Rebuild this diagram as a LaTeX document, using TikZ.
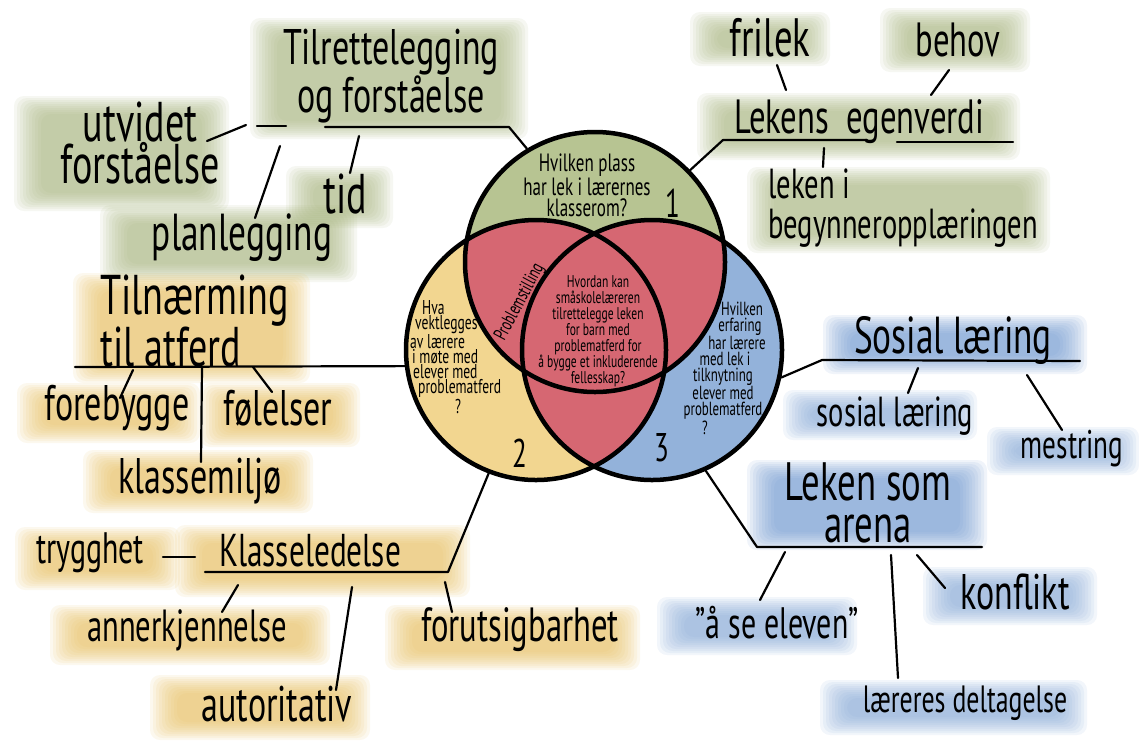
\documentclass[tikz,border=0pt]{standalone}
\usepackage{fontspec}
\setmainfont{PT Sans}[FakeStretch=0.68]
\definecolor{vgreen}{HTML}{B7C492}
\definecolor{vyellow}{HTML}{F2D690}
\definecolor{vblue}{HTML}{93B2DA}
\definecolor{vred}{HTML}{D66772}
\definecolor{bgreen}{HTML}{A8B780}
\definecolor{byellow}{HTML}{EAC05E}
\definecolor{bblue}{HTML}{86A8D8}
\definecolor{bbluedark}{HTML}{6D98D1}
\newcommand{\fs}[2]{\fontsize{#1}{#2}\selectfont}
\newcommand{\brushfill}[5]{%
  \foreach \k in {0,...,9}{%
    \fill[#1, opacity=0.1, rounded corners=10pt] (#2+3*\k,#3+2*\k) rectangle (#4-3*\k,#5-2*\k);
  }%
}
\begin{document}
\begin{tikzpicture}[x=1pt,y=-1pt,
  lbl/.style={inner sep=0pt, align=center, text=black},
  con/.style={line width=2.2pt, line cap=round, line join=round},
  vc/.style={circle, draw, line width=4.5pt, minimum size=260pt, inner sep=0pt}]
\fill[white] (0,0) rectangle (1139,740);
\useasboundingbox (0,0) rectangle (1139,740);

% ---------- brushes ----------
\brushfill{bgreen}{250}{18}{528}{139}
\brushfill{bgreen}{14}{96}{229}{211}
\brushfill{bgreen}{286}{166}{393}{228}
\brushfill{bgreen}{100}{205}{357}{282}
\brushfill{bgreen}{690}{12}{830}{66}
\brushfill{bgreen}{880}{8}{1030}{72}
\brushfill{bgreen}{697}{93}{1020}{160}
\brushfill{bgreen}{747}{167}{1050}{253}
\brushfill{byellow}{73}{273}{310}{383}
\brushfill{byellow}{17}{383}{200}{443}
\brushfill{byellow}{200}{383}{360}{447}
\brushfill{byellow}{83}{450}{313}{513}
\brushfill{byellow}{175}{525}{470}{597}
\brushfill{byellow}{15}{527}{180}{590}
\brushfill{byellow}{50}{605}{330}{665}
\brushfill{byellow}{150}{675}{370}{740}
\brushfill{byellow}{385}{605}{640}{670}
\brushfill{bbluedark}{823}{315}{1087}{374}
\brushfill{bblue}{783}{390}{977}{440}
\brushfill{bblue}{987}{427}{1139}{475}
\brushfill{bbluedark}{747}{460}{987}{550}
\brushfill{bblue}{657}{597}{857}{655}
\brushfill{bblue}{923}{567}{1097}{625}
\brushfill{bblue}{820}{680}{1087}{735}

% ---------- Venn ----------
\fill[vgreen] (595,262) circle (130);
\fill[vyellow] (536,350) circle (130);
\fill[vblue] (652,350) circle (130);
\begin{scope}
  \clip (595,262) circle (130);
  \fill[vred] (536,350) circle (130);
  \fill[vred] (652,350) circle (130);
\end{scope}
\begin{scope}
  \clip (536,350) circle (130);
  \fill[vred] (652,350) circle (130);
\end{scope}
\node[vc] (gc) at (595,262) {};
\node[vc] (yc) at (536,350) {};
\node[vc] (bc) at (652,350) {};

\node[lbl, font=\fs{25}{21}] (q1) at (587,185) {Hvilken plass\\har lek i lærernes\\klasserom?};
\node[lbl, font=\fs{40}{40}] (n1) at (673,203) {1};
\node[lbl, font=\fs{20}{15}, align=left, anchor=west] (q2) at (410,357)
  {\hspace*{12pt}Hva\\\hspace*{5pt}vektlegges\\av lærere\\\hspace*{2pt}i møte med\\\hspace*{3pt}elever med\\\hspace*{8pt}problematferd\\\hspace*{45pt}?};
\node[lbl, font=\fs{40}{40}] (n2) at (520,453) {2};
\node[lbl, font=\fs{19}{16}] (q3) at (723,368)
  {\hspace*{38pt}Hvilken\\\hspace*{34pt}erfaring\\\hspace*{28pt}har lærere\\\hspace*{4pt}med lek i\\tilknytning\hspace*{10pt}\\elever med\hspace*{38pt}\\problematferd\hspace*{38pt}\\?\hspace*{36pt}};
\node[lbl, font=\fs{40}{40}] (n3) at (662,448) {3};
\node[lbl, font=\fs{17}{16}] (q0) at (598,331) {Hvordan kan\\småskolelæreren\\tilrettelegge leken\\for barn med\\problematferd for\\å bygge et inkluderende\\fellesskap?};
\node[lbl, font=\fs{19}{19}, rotate=62] (ps) at (520,302) {Problemstilling};

% ---------- top left ----------
\node[lbl, font=\fs{50}{45}] (t1) at (391,76) {Tilrettelegging\\og forståelse};
\node[lbl, font=\fs{56}{42}] (t1u) at (140,143) {utvidet\\forståelse};
\node[lbl, font=\fs{56}{56}] (t1t) at (345,194) {tid};
\node[lbl, font=\fs{52}{52}] (t1p) at (242,238) {planlegging};
\coordinate (ta) at (509,127);
\coordinate (tb) at (325,127);
\draw[con] (gc.121) -- (ta) -- (tb);
\coordinate (u1) at (207,141); \coordinate (u2) at (246,125);
\coordinate (u3) at (257,126); \coordinate (u4) at (286,126);
\draw[con] (u1) -- (u2);
\draw[con] (u3) -- (u4);
\coordinate (tt1) at (350,173); \coordinate (tt2) at (359,136);
\draw[con] (tt1) -- (tt2);
\coordinate (tp1) at (255,218); \coordinate (tp2) at (280,146);
\draw[con] (tp1) -- (tp2);

% ---------- top right ----------
\node[lbl, font=\fs{48}{48}] (t2) at (859,122) {Lekens\ \ egenverdi};
\node[lbl, font=\fs{54}{54}] (t2f) at (770,38) {frilek};
\node[lbl, font=\fs{48}{48}] (t2b) at (958,40) {behov};
\node[lbl, font=\fs{42}{40}, align=left] (t2l) at (903,208) {leken i\\begynneropplæringen};
\coordinate (la) at (723,140);
\coordinate (lb) at (867,140);
\draw[con] (gc.44) -- (la) -- (lb);
\coordinate (lc) at (897,142); \coordinate (ld) at (1013,142);
\draw[con] (lc) -- (ld);
\coordinate (f1) at (777,65); \coordinate (f2) at (786,90);
\draw[con] (f1) -- (f2);
\coordinate (h1) at (949,70); \coordinate (h2) at (931,95);
\draw[con] (h1) -- (h2);
\coordinate (k1) at (824,148); \coordinate (k2) at (823,167);
\draw[con] (k1) -- (k2);

% ---------- middle left ----------
\node[lbl, font=\fs{56}{42}, align=left, anchor=west] (t3) at (100,321) {Tilnærming\\til atferd};
\node[lbl, font=\fs{50}{50}] (t3a) at (117,408) {forebygge};
\node[lbl, font=\fs{50}{50}] (t3b) at (278,408) {følelser};
\node[lbl, font=\fs{50}{50}] (t3c) at (200,481) {klassemiljø};
\coordinate (na) at (75,367);
\draw[con] (yc.187.5) -- (na);
\coordinate (m1) at (133,370); \coordinate (m2) at (120,398);
\draw[con] (m1) -- (m2);
\coordinate (m3) at (202,368); \coordinate (m4) at (201,462);
\draw[con] (m3) -- (m4);
\coordinate (m5) at (253,367); \coordinate (m6) at (272,392);
\draw[con] (m5) -- (m6);

% ---------- bottom left ----------
\node[lbl, font=\fs{46}{46}] (t4) at (310,551) {Klasseledelse};
\node[lbl, font=\fs{44}{44}] (t4a) at (90,553) {trygghet};
\node[lbl, font=\fs{45}{45}] (t4b) at (187,630) {annerkjennelse};
\node[lbl, font=\fs{50}{50}] (t4c) at (277,704) {autoritativ};
\node[lbl, font=\fs{48}{48}] (t4d) at (520,630) {forutsigbarhet};
\coordinate (ka) at (448,572);
\coordinate (kb) at (205,572);
\draw[con] (yc.249) -- (ka) -- (kb);
\coordinate (d1) at (163,557); \coordinate (d2) at (195,557);
\draw[con] (d1) -- (d2);
\coordinate (e1) at (238,585); \coordinate (e2) at (222,612);
\draw[con] (e1) -- (e2);
\coordinate (e3) at (352,587); \coordinate (e4) at (336,690);
\draw[con] (e3) -- (e4);
\coordinate (e5) at (445,582); \coordinate (e6) at (452,612);
\draw[con] (e5) -- (e6);

% ---------- right ----------
\node[lbl, font=\fs{52}{52}] (t5) at (953,340) {Sosial læring};
\node[lbl, font=\fs{42}{42}] (t5a) at (895,416) {sosial læring};
\node[lbl, font=\fs{40}{40}] (t5b) at (1072,449) {mestring};
\coordinate (sa) at (822,360);
\coordinate (sb) at (1080,361);
\draw[con] (bc.-12) -- (sa) -- (sb);
\coordinate (s1) at (918,368); \coordinate (s2) at (908,393);
\draw[con] (s1) -- (s2);
\coordinate (s3) at (1027,375); \coordinate (s4) at (1062,430);
\draw[con] (s3) -- (s4);

\node[lbl, font=\fs{54}{42}] (t6) at (868,503) {Leken som\\arena};
\node[lbl, font=\fs{44}{44}] (t6a) at (777,623) {"å se eleven"};
\node[lbl, font=\fs{50}{50}] (t6b) at (1015,592) {konflikt};
\node[lbl, font=\fs{38}{38}] (t6c) at (965,703) {læreres deltagelse};
\coordinate (aa) at (757,547);
\coordinate (ab) at (982,547);
\draw[con] (bc.-66) -- (aa) -- (ab);
\coordinate (r1) at (785,552); \coordinate (r2) at (760,600);
\draw[con] (r1) -- (r2);
\coordinate (r3) at (891,555); \coordinate (r4) at (898,678);
\draw[con] (r3) -- (r4);
\coordinate (r5) at (917,555); \coordinate (r6) at (945,588);
\draw[con] (r5) -- (r6);
\end{tikzpicture}
\end{document}
